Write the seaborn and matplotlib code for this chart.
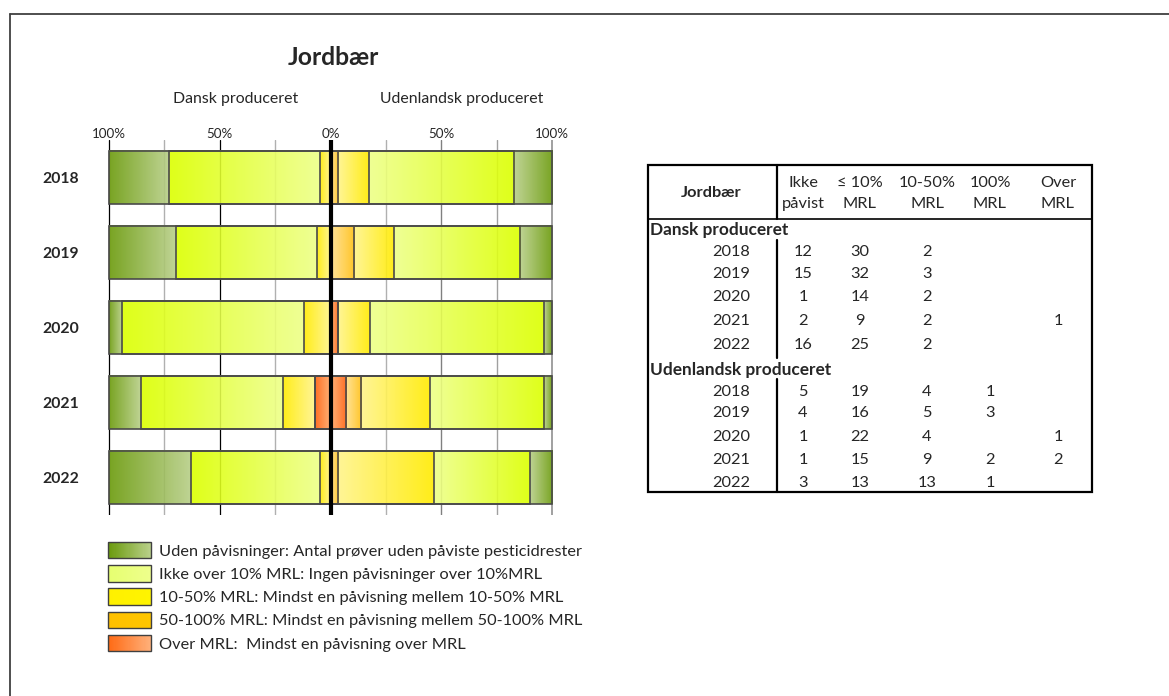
import numpy as np
import pandas as pd
import matplotlib
matplotlib.use("Agg")
import matplotlib.pyplot as plt
import seaborn as sns
from matplotlib.patches import Rectangle
from matplotlib.colors import to_rgba
from matplotlib.legend_handler import HandlerBase

# ---------------- data ----------------
years = ["2018", "2019", "2020", "2021", "2022"]
# counts per category (table values) – Danish produced
dk_ikke = [12, 15, 1, 2, 16]
dk_le10 = [30, 32, 14, 9, 25]
dk_10_50 = [2, 3, 2, 2, 2]
dk_100 = [0, 0, 0, 0, 0]
dk_over = [0, 0, 0, 1, 0]
# foreign produced
uk_ikke = [5, 4, 1, 1, 3]
uk_le10 = [19, 16, 22, 15, 13]
uk_10_50 = [4, 5, 4, 9, 13]
uk_100 = [1, 3, 0, 2, 1]
uk_over = [0, 0, 1, 2, 0]

tick_vals = [-100, -50, 0, 50, 100]
tick_labels = ["100%", "50%", "0%", "50%", "100%"]
hdr1 = ["Ikke", "≤ 10%", "10-50%", "100%", "Over"]
hdr2 = ["påvist", "MRL", "MRL", "MRL", "MRL"]
legend_labels = [
    "Uden påvisninger: Antal prøver uden påviste pesticidrester",
    "Ikke over 10% MRL: Ingen påvisninger over 10%MRL",
    "10-50% MRL: Mindst en påvisning mellem 10-50% MRL",
    "50-100% MRL: Mindst en påvisning mellem 50-100% MRL",
    "Over MRL:  Mindst en påvisning over MRL",
]

# ---------------- style ----------------
sns.set_style("white")
plt.rcParams["font.family"] = ["Lato", "DejaVu Sans"]

W, H = 1169, 696
fig = plt.figure(figsize=(W / 100, H / 100), dpi=100)
renderer = fig.canvas.get_renderer()


def fit(s, target_px, weight="normal"):
    t = fig.text(0, 0, s, fontsize=10, fontweight=weight)
    w = t.get_window_extent(renderer).width
    t.remove()
    return 10 * target_px / w


fs_title = fit("Jordbær", 92, "bold")
fs_sub = fit("Dansk produceret", 126)
fs_tick = fit("100%", 34)
fs_year = fit("2020", 37, "bold")
fs_leg = fit(legend_labels[0], 421)
fs_tab = fs_leg
fs_tabb = fit("Udenlandsk produceret", 181, "bold")

# gradient colours (inner -> outer), order from centre outward
seg_colors = [
    ("#ffa868", "#ff5f0a"),  # over MRL
    ("#ffe08c", "#ffbf10"),  # 50-100%
    ("#fff48a", "#ffec00"),  # 10-50%
    ("#eeff88", "#dcff00"),  # <=10%
    ("#b8cf88", "#6a9a0a"),  # ikke påvist
]

ax = fig.add_axes([108 / W, 1 - 515 / H, 445 / W, 375 / H])

sides = [
    (-1, [dk_over, dk_100, dk_10_50, dk_le10, dk_ikke]),
    (1, [uk_over, uk_100, uk_10_50, uk_le10, uk_ikke]),
]

edge = "#4a4a4a"
for sign, layers in sides:
    arr = np.array(layers, dtype=float)
    pct = arr / arr.sum(axis=0) * 100
    cum = np.cumsum(pct, axis=0)
    prev = np.vstack([np.zeros(len(years)), cum[:-1]])
    for k in range(len(layers) - 1, -1, -1):
        n0 = len(ax.patches)
        df = pd.DataFrame({"year": years, "val": sign * cum[k]})
        sns.barplot(data=df, x="val", y="year", order=years, orient="h",
                    width=0.71, facecolor="none", edgecolor=edge,
                    linewidth=1.2, zorder=3, ax=ax)
        for p in ax.patches[n0:]:
            yc = p.get_y() + p.get_height() / 2
            i = int(round(yc))
            x_in = sign * prev[k, i]
            x_out = sign * cum[k, i]
            if abs(x_out - x_in) < 1e-9:
                continue
            c0 = np.array(to_rgba(seg_colors[k][0]))
            c1 = np.array(to_rgba(seg_colors[k][1]))
            t = np.linspace(0, 1, 64)[:, None]
            img = (c0 * (1 - t) + c1 * t)[None, :, :]
            ax.imshow(img, extent=(x_in, x_out, p.get_y(), p.get_y() + p.get_height()),
                      aspect="auto", interpolation="bilinear", zorder=2, alpha=0.9)

# grid lines
grid_style = {-100: ("black", 0.9), -75: ("#b0b0b0", 1.0), -50: ("black", 0.9),
              -25: ("#b0b0b0", 1.0), 25: ("#b0b0b0", 1.0), 50: ("#808080", 1.0),
              75: ("#a0a0a0", 1.0), 100: ("#909090", 1.2)}
for xv, (c, lw) in grid_style.items():
    ax.axvline(xv, color=c, lw=lw, zorder=1)
ax.axvline(0, color="black", lw=3.0, zorder=5)

ax.set_xlim(-100.5, 100.5)
ax.set_ylim(4.5, -0.5)
for s in ax.spines.values():
    s.set_visible(False)
ax.xaxis.tick_top()
ax.set_xticks(tick_vals)
ax.set_xticklabels(tick_labels, fontsize=fs_tick)
ax.tick_params(axis="x", length=0, pad=0)
ax.set_yticks(range(len(years)))
ax.set_yticklabels(years, fontsize=fs_year, fontweight="bold")
ax.tick_params(axis="y", length=0, pad=21)
ax.set_xlabel("")
ax.set_ylabel("")
ax.set_facecolor("none")

# ---------------- overlay (titles, table, frame) ----------------
ov = fig.add_axes([0, 0, 1, 1], zorder=-1)
ov.set_xlim(0, W)
ov.set_ylim(H, 0)
ov.axis("off")

ov.plot([10, 10], [14, H], color="#404040", lw=1.3)
ov.plot([10, W], [14, 14], color="#404040", lw=1.3)

ov.text(333, 65, "Jordbær", fontsize=fs_title, fontweight="bold", ha="center", va="baseline")
ov.text(236, 103, "Dansk produceret", fontsize=fs_sub, ha="center", va="baseline")
ov.text(462, 103, "Udenlandsk produceret", fontsize=fs_sub, ha="center", va="baseline")

# table
ov.add_patch(Rectangle((648, 165), 444, 327, fill=False, lw=1.6, ec="black"))
ov.plot([648, 1092], [219, 219], color="black", lw=1.2)
for y0, y1 in [(165, 219), (240, 358), (379, 492)]:
    ov.plot([777, 777], [y0, y1], color="black", lw=1.6)

col_x = [803, 860, 927, 990, 1058]
ov.text(711, 193, "Jordbær", fontsize=fs_tab, fontweight="bold", ha="center", va="center")
for j in range(5):
    ov.text(col_x[j], 183, hdr1[j], fontsize=fs_tab, ha="center", va="center")
    ov.text(col_x[j], 204, hdr2[j], fontsize=fs_tab, ha="center", va="center")

dk_rows_y = [252, 274, 297, 321, 345]
uk_rows_y = [392, 413, 437, 460, 483]
ov.text(650, 230, "Dansk produceret", fontsize=fs_tabb, fontweight="bold", ha="left", va="center")
ov.text(650, 370, "Udenlandsk produceret", fontsize=fs_tabb, fontweight="bold", ha="left", va="center")
dk_tab = [dk_ikke, dk_le10, dk_10_50, dk_100, dk_over]
uk_tab = [uk_ikke, uk_le10, uk_10_50, uk_100, uk_over]
for tab, rows_y in [(dk_tab, dk_rows_y), (uk_tab, uk_rows_y)]:
    for i, yr in enumerate(years):
        ov.text(750, rows_y[i], yr, fontsize=fs_tab, ha="right", va="center")
        for j in range(5):
            v = tab[j][i]
            if v:
                ov.text(col_x[j], rows_y[i], str(v), fontsize=fs_tab, ha="center", va="center")


# ---------------- legend ----------------
class GradHandler(HandlerBase):
    def __init__(self, c_left, c_right, n=40):
        super().__init__()
        self.c0 = np.array(to_rgba(c_left))
        self.c1 = np.array(to_rgba(c_right))
        self.n = n

    def create_artists(self, legend, orig_handle, xdescent, ydescent, width, height, fontsize, trans):
        arts = []
        for i in range(self.n):
            t = i / (self.n - 1)
            c = self.c0 * (1 - t) + self.c1 * t
            arts.append(Rectangle((-xdescent + width * i / self.n, -ydescent), width / self.n * 1.1, height,
                                  facecolor=c, edgecolor="none", transform=trans))
        arts.append(Rectangle((-xdescent, -ydescent), width, height, facecolor="none",
                              edgecolor="#404040", lw=1.0, transform=trans))
        return arts


leg_cols = [("#6a9a0c", "#b9d08a"), ("#e6ff70", "#eeff8c"), ("#fff000", "#fff400"),
            ("#ffc000", "#ffc600"), ("#ff6a14", "#ffb07a")]
handles = [Rectangle((0, 0), 1, 1) for _ in legend_labels]
hmap = {h: GradHandler(*c) for h, c in zip(handles, leg_cols)}
fpx = fs_leg * 100 / 72
fig.legend(handles, legend_labels, handler_map=hmap, loc="upper left",
           bbox_to_anchor=(108 / W, 1 - 542 / H), bbox_transform=fig.transFigure,
           frameon=False, fontsize=fs_leg, borderpad=0, borderaxespad=0,
           handlelength=43 / fpx, handleheight=19 / fpx, handletextpad=8 / fpx,
           labelspacing=6.5 / fpx)

fig.savefig("out.png", dpi=100)
